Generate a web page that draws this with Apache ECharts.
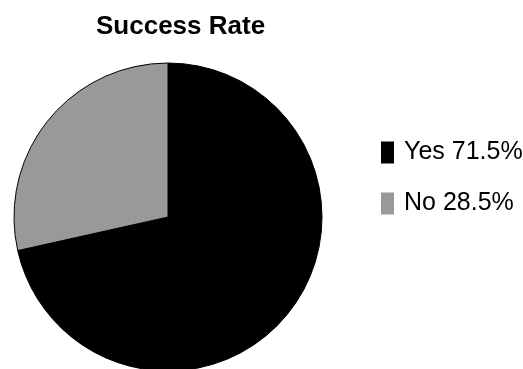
<!DOCTYPE html>
<html>
<head>
<meta charset="utf-8">
<script src="https://cdn.jsdelivr.net/npm/echarts@6/dist/echarts.min.js"></script>
<style>
  html, body { margin: 0; padding: 0; background: #fff; }
  #chart { width: 523px; height: 369px; }
</style>
</head>
<body>
<div id="chart"></div>
<script>
  const categories = ['Yes', 'No']
  const values = [71.5, 28.5]
  const colors = ['#000000', '#999999']

  let myChart = echarts.init(document.getElementById('chart'))

  let data = categories.map((name, i) => ({
    name,
    value: values[i],
    itemStyle: { color: colors[i] }
  }))

  myChart.setOption({
    animation: false,
    title: {
      text: 'Success Rate',
      left: 91,
      top: 9,
      textStyle: {
        fontFamily: 'Liberation Sans, Arial, sans-serif',
        fontSize: 26,
        fontWeight: 'bold',
        color: '#000'
      }
    },
    legend: {
      orient: 'vertical',
      left: 376,
      top: 135,
      itemWidth: 13,
      itemHeight: 22,
      itemGap: 26,
      icon: 'rect',
      itemStyle: { borderWidth: 0 },
      textStyle: {
        fontFamily: 'Liberation Sans, Arial, sans-serif',
        fontSize: 25,
        color: '#000',
        padding: [0, 0, 0, 5]
      },
      formatter: name => name + ' ' + values[categories.indexOf(name)] + '%'
    },
    series: [
      {
        type: 'pie',
        center: [168, 217],
        radius: 154,
        startAngle: 90,
        clockwise: true,
        label: { show: false },
        labelLine: { show: false },
        emphasis: { disabled: true },
        itemStyle: { borderColor: '#000', borderWidth: 1 },
        data
      }
    ]
  })
</script>
</body>
</html>
